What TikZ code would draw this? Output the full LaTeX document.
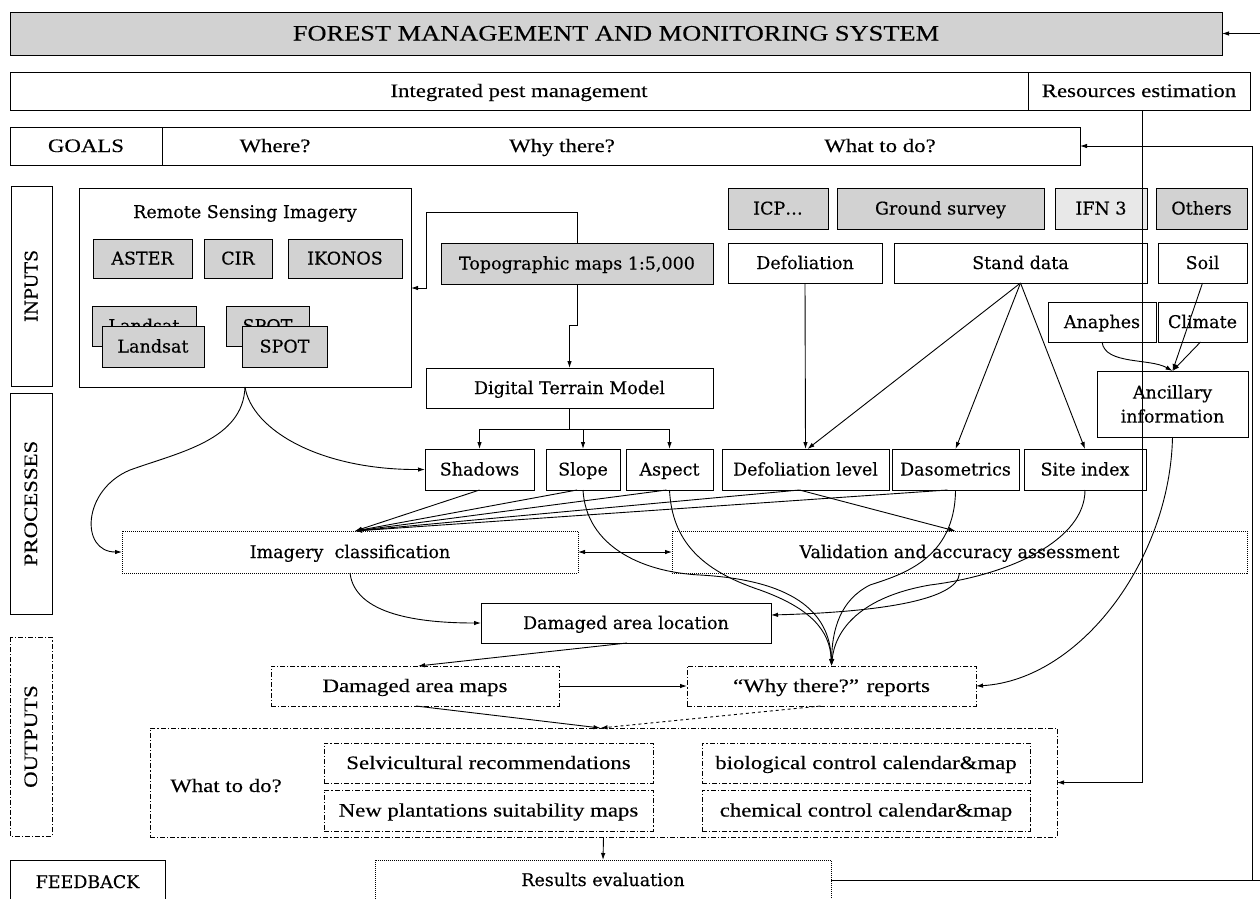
\documentclass[tikz,border=0pt]{standalone}
\usepackage{fontspec}
\setmainfont{Liberation Serif}[FakeStretch=1.2,FakeBold=0.3]
\newfontfamily\dvserif{DejaVu Serif}[FakeBold=0.3]
\usetikzlibrary{arrows.meta,calc}
\newcommand\myfs{\fontsize{19}{25}\selectfont}
\newcommand\myts{\fontsize{22}{26}\selectfont}
\newcommand\dvfs{\dvserif\fontsize{17.5}{24}\selectfont}
\begin{document}
\begin{tikzpicture}[x=1pt,y=-1pt,
  box/.style={draw, line width=1pt, inner sep=0pt, outer sep=0pt, fill=white, font=\myfs, align=center, text height=14pt, text depth=2pt},
  dv/.style={font=\dvfs},
  gbox/.style={box, fill=gray!35},
  lgbox/.style={box, fill=gray!18},
  dotbox/.style={box, densely dotted, line width=0.8pt},
  ddbox/.style={box, line width=0.9pt, dash pattern=on 5pt off 2pt on 1.2pt off 2pt},
  lbl/.style={inner sep=0pt, font=\myfs, text height=14pt, text depth=2pt},
  arr/.style={-{Latex[length=7pt,width=4.5pt]}, line width=0.9pt},
  ln/.style={line width=0.9pt}]
\useasboundingbox (0,0) rectangle (1260,898);

% top rows
\node[gbox, font=\myts, text height=16pt, minimum width=1212pt, minimum height=43pt] (title) at (616,33.5) {FOREST MANAGEMENT AND MONITORING SYSTEM};
\node[box, minimum width=1018pt, minimum height=38pt] (ipm) at (519,91) {Integrated pest management};
\node[box, minimum width=222pt, minimum height=38pt] (res) at (1139,91) {Resources estimation};
\node[box, minimum width=152pt, minimum height=38pt] (goals) at (86,146) {GOALS};
\node[box, minimum width=918pt, minimum height=38pt] (goalsrow) at (621,146) {};
\node[lbl] (where) at (275,146) {Where?};
\node[lbl] (whythere) at (562,146) {Why there?};
\node[lbl] (whatq) at (880,146) {What to do?};

% left labels
\node[box, dv, rotate=90, minimum width=200pt, minimum height=41pt] (inputs) at (31.5,286) {INPUTS};
\node[box, rotate=90, minimum width=221pt, minimum height=42pt] (processes) at (31,503.5) {PROCESSES};
\node[ddbox, rotate=90, minimum width=199pt, minimum height=42pt] (outputs) at (31,736.5) {OUTPUTS};
\node[box, dv, minimum width=155pt, minimum height=44pt] (feedback) at (87.5,882) {FEEDBACK};

% remote sensing
\node[box, minimum width=332pt, minimum height=199pt] (rsi) at (245,287.5) {};
\node[lbl, dv] (rsilbl) at (245,212) {Remote Sensing Imagery};
\node[gbox, dv, minimum width=99pt, minimum height=39pt] (aster) at (142.5,258.5) {ASTER};
\node[gbox, dv, minimum width=68pt, minimum height=39pt] (cir) at (238,258.5) {CIR};
\node[gbox, dv, minimum width=114pt, minimum height=39pt] (ikonos) at (345,258.5) {IKONOS};
\node[gbox, dv, minimum width=104pt, minimum height=40pt] (landsatb) at (144,326) {Landsat};
\node[gbox, dv, minimum width=83pt, minimum height=40pt] (spotb) at (267.5,326) {SPOT};
\node[gbox, dv, minimum width=102pt, minimum height=41pt] (landsat) at (153,346.5) {Landsat};
\node[gbox, dv, minimum width=85pt, minimum height=41pt] (spot) at (284.5,346.5) {SPOT};

% topo / dtm
\node[gbox, dv, minimum width=272pt, minimum height=41pt] (topo) at (577,263.5) {Topographic maps 1:5,000};
\node[box, dv, minimum width=287pt, minimum height=40pt] (dtm) at (569.5,388) {Digital Terrain Model};

% right inputs
\node[gbox, dv, minimum width=100pt, minimum height=41pt] (icp) at (778,208.5) {ICP\ldots};
\node[gbox, dv, minimum width=207pt, minimum height=41pt] (ground) at (940.5,208.5) {Ground survey};
\node[lgbox, dv, minimum width=92pt, minimum height=41pt] (ifn) at (1101,208.5) {IFN 3};
\node[gbox, dv, minimum width=91pt, minimum height=41pt] (others) at (1201.5,208.5) {Others};
\node[box, dv, minimum width=154pt, minimum height=40pt] (defol) at (805,263) {Defoliation};
\node[box, dv, minimum width=253pt, minimum height=40pt] (stand) at (1020.5,263) {Stand data};
\node[box, dv, minimum width=89pt, minimum height=40pt] (soil) at (1202.5,263) {Soil};
\node[box, dv, minimum width=108pt, minimum height=40pt] (anaphes) at (1102,322) {Anaphes};
\node[box, dv, minimum width=89pt, minimum height=40pt] (climate) at (1202.5,322) {Climate};
\node[box, dv, text height=, text depth=, minimum width=151pt, minimum height=66pt] (ancil) at (1172.5,404) {Ancillary\\information};

% processes row
\node[box, dv, minimum width=109pt, minimum height=41pt] (shadows) at (479.5,469.5) {Shadows};
\node[box, dv, minimum width=74pt, minimum height=41pt] (slope) at (583,469.5) {Slope};
\node[box, dv, minimum width=87pt, minimum height=41pt] (aspect) at (669.5,469.5) {Aspect};
\node[box, dv, minimum width=167pt, minimum height=41pt] (deflevel) at (805.5,469.5) {Defoliation level};
\node[box, dv, minimum width=127pt, minimum height=41pt] (daso) at (955.5,469.5) {Dasometrics};
\node[box, dv, minimum width=122pt, minimum height=41pt] (site) at (1085,469.5) {Site index};

\node[dotbox, dv, minimum width=456pt, minimum height=42pt] (imgcls) at (350,552) {Imagery\ \ classification};
\node[dotbox, dv, minimum width=575pt, minimum height=42pt] (valid) at (959.5,552) {Validation and accuracy assessment};
\node[box, dv, minimum width=290pt, minimum height=40pt] (dal) at (626,623) {Damaged area location};

% outputs
\node[ddbox, minimum width=288pt, minimum height=40pt] (dam) at (415,686) {Damaged area maps};
\node[ddbox, minimum width=289pt, minimum height=40pt] (why) at (831.5,686) {“Why there?” reports};
\node[ddbox, minimum width=907pt, minimum height=109pt] (whatdo) at (603.5,782.5) {};
\node[lbl] (whatdolbl) at (226,786) {What to do?};
\node[ddbox, minimum width=329pt, minimum height=40pt] (selv) at (488.5,763) {Selvicultural recommendations};
\node[ddbox, minimum width=329pt, minimum height=41pt] (newp) at (488.5,810.5) {New plantations suitability maps};
\node[ddbox, minimum width=328pt, minimum height=40pt] (bio) at (866,763) {biological control calendar\&map};
\node[ddbox, minimum width=328pt, minimum height=41pt] (chem) at (866,810.5) {chemical control calendar\&map};
\node[dotbox, dv, minimum width=456pt, minimum height=40pt] (results) at (603,880) {Results evaluation};

% connectors
\draw[arr] (1260,33.5) -- (title.east);
\draw[arr] (topo.north) |- (426,212) |- (rsi.east |- 0,288);
\draw[arr] (topo.south) -- ++(0,41) -| (dtm.north);
\draw[ln] (dtm.south) -- ++(0,21) coordinate (dtmj);
\draw[arr] (dtmj) -| (shadows.north);
\draw[arr] (dtmj) -| (slope.north);
\draw[arr] (dtmj) -| (aspect.north);
\draw[arr] (defol.south) -- (deflevel.north);
\draw[arr] (stand.south) -- ([xshift=2pt]deflevel.north);
\draw[arr] (stand.south) -- (daso.north);
\draw[arr] (stand.south) -- (site.north);
\draw[arr] (anaphes.south) .. controls (1105,365) and (1150,358) .. (ancil.north);
\draw[arr] (soil.south) -- (ancil.north);
\draw[arr] ([xshift=-2pt]climate.south) -- (ancil.north);

\draw[arr] (rsi.south) .. controls (243,440) and (180,452) .. (130,470) .. controls (82,490) and (80,552) .. (imgcls.west);
\draw[arr] (rsi.south) .. controls (252,430) and (320,470) .. (shadows.west);

\coordinate (icin) at ([xshift=5pt]imgcls.north);
\draw[arr] (shadows.south) -- (icin);
\draw[arr] ([xshift=-6pt]slope.south) -- (icin);
\draw[arr] ([xshift=-3pt]aspect.south) -- (icin);
\draw[arr] ([xshift=-6pt]deflevel.south) -- (icin);
\draw[arr] ([xshift=-8pt]daso.south) -- (icin);
\draw[arr] ([xshift=-6pt]deflevel.south) -- ([xshift=-4pt]valid.north);
\draw[{Latex[length=7pt,width=4.5pt]}-{Latex[length=7pt,width=4.5pt]}, line width=0.9pt] (imgcls.east) -- (valid.west);
\draw[arr] (imgcls.south) .. controls (355,615) and (420,623) .. (dal.west);

\draw[arr] (slope.south) .. controls (586,545) and (640,572) .. (700,575) .. controls (790,580) and (830,610) .. (why.north);
\draw[arr] (aspect.south) .. controls (672,540) and (700,570) .. (760,590) .. controls (810,608) and (830,630) .. (why.north);
\draw[arr] (daso.south) .. controls (955,560) and (900,575) .. (870,585) .. controls (840,600) and (832,630) .. (why.north);
\draw[arr] (site.south) .. controls (1085,540) and (1010,575) .. (930,585) .. controls (860,597) and (835,630) .. (why.north);
\draw[arr] (valid.south) .. controls (958,600) and (880,612) .. ([yshift=8pt]dal.east);
\draw[arr] (ancil.south) .. controls (1170,560) and (1080,680) .. (why.east);

\draw[arr] ([xshift=1pt]dal.south) -- ([xshift=3pt]dam.north);
\draw[arr] (dam.east) -- (why.west);
\coordinate (wdin) at ([xshift=-3pt]whatdo.north);
\draw[arr] ([xshift=1pt]dam.south) -- (wdin);
\draw[arr, dashed] ([xshift=-11pt]why.south) -- (wdin);
\draw[arr] (whatdo.south) -- (results.north);

\draw[arr] ([xshift=3pt]res.south) |- (whatdo.east);
\draw[ln] (results.east) -- (1260,880) coordinate (fbr);
\draw[arr] (1252,880) |- (goalsrow.east);
\end{tikzpicture}
\end{document}
